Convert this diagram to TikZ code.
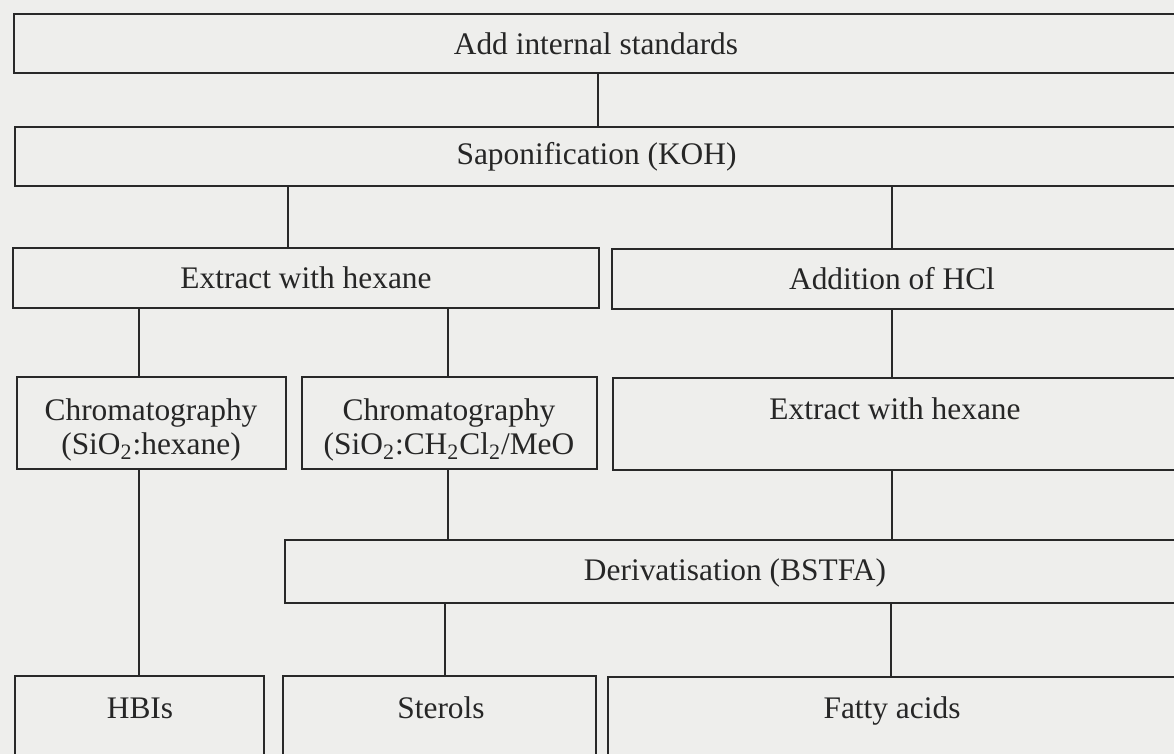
\documentclass[tikz,border=0pt]{standalone}
\usepackage{fontspec}
\setmainfont{Liberation Serif}
\usetikzlibrary{fit}

\definecolor{sfondo}{RGB}{238,238,236}
\definecolor{tratto}{RGB}{40,40,40}

\begin{document}
\begin{tikzpicture}[x=0.5pt, y=-0.5pt,
        stadio/.style={draw=tratto, line width=1.05pt, rectangle, inner sep=0pt},
        testo/.style={align=center, text=black!85, font=\fontsize{15.7}{17}\selectfont},
        link/.style={draw=tratto, line width=1pt}]
        % --- Sfondo e dimensioni ---
        \fill[sfondo] (0,0) rectangle (1174,754);
        \useasboundingbox (0,0) rectangle (1174,754);

        % bordo destro/inferiore fuori pagina
        \def\dx{1178}
        \def\giu{772}

        % --- Passi in alto ---
        \node[stadio, fit={(14,14) (\dx,73)}] (add) {};
        \node[stadio, fit={(15,127) (\dx,186)}] (sapo) {};
        \node[testo] (addt) at (add) {Add internal standards};
        \node[testo] (sapot) at (sapo) {Saponification (KOH)};

        \node[stadio, fit={(13,248) (599,308)}] (ext1) {};
        \node[stadio, fit={(612,249) (\dx,309)}] (hcl) {};
        \node[testo] (ext1t) at (ext1) {Extract with hexane};
        \node[testo] (hclt) at (892,279) {Addition of HCl};

        % --- Cromatografia ed estrazione ---
        \node[stadio, fit={(17,377) (286,469)}] (chrom1) {};
        \node[stadio, fit={(302,377) (597,469)}] (chrom2) {};
        \node[stadio, fit={(613,378) (\dx,470)}] (ext2) {};
        \node[testo] (chrom1t) at (151,430)
            {Chromatography\\(SiO\textsubscript{2}:hexane)};
        \node[testo] (chrom2t) at (449,430)
            {Chromatography\\(SiO\textsubscript{2}:CH\textsubscript{2}Cl\textsubscript{2}/MeO};
        \node[testo, anchor=base] (ext2t) at (895,420) {Extract with hexane};

        \node[stadio, fit={(285,540) (\dx,603)}] (deriv) {};
        \node[testo] (derivt) at (735,573) {Derivatisation (BSTFA)};

        % --- Prodotti finali ---
        \node[stadio, fit={(15,676) (264,\giu)}] (hbis) {};
        \node[stadio, fit={(283,676) (596,\giu)}] (sterols) {};
        \node[stadio, fit={(608,677) (\dx,\giu)}] (fatty) {};
        \node[testo, anchor=base] (hbist) at (140,718) {HBIs};
        \node[testo, anchor=base] (sterolst) at (441,718) {Sterols};
        \node[testo, anchor=base] (fattyt) at (892,718) {Fatty acids};

        % ascisse dei collegamenti
        \coordinate (xa) at (598,0);
        \coordinate (xb) at (288,0);
        \coordinate (xc) at (892,0);
        \coordinate (xd) at (139,0);
        \coordinate (xe) at (448,0);
        \coordinate (xf) at (445,0);
        \coordinate (xg) at (891,0);

        % --- Collegamenti ---
        \draw[link] (add.south -| xa) -- (sapo.north -| xa);
        \draw[link] (sapo.south -| xb) -- (ext1.north -| xb);
        \draw[link] (sapo.south -| xc) -- (hcl.north -| xc);
        \draw[link] (ext1.south -| xd) -- (chrom1.north -| xd);
        \draw[link] (ext1.south -| xe) -- (chrom2.north -| xe);
        \draw[link] (hcl.south -| xc) -- (ext2.north -| xc);
        \draw[link] (chrom1.south -| xd) -- (hbis.north -| xd);
        \draw[link] (chrom2.south -| xe) -- (deriv.north -| xe);
        \draw[link] (ext2.south -| xc) -- (deriv.north -| xc);
        \draw[link] (deriv.south -| xf) -- (sterols.north -| xf);
        \draw[link] (deriv.south -| xg) -- (fatty.north -| xg);
    \end{tikzpicture}
\end{document}
